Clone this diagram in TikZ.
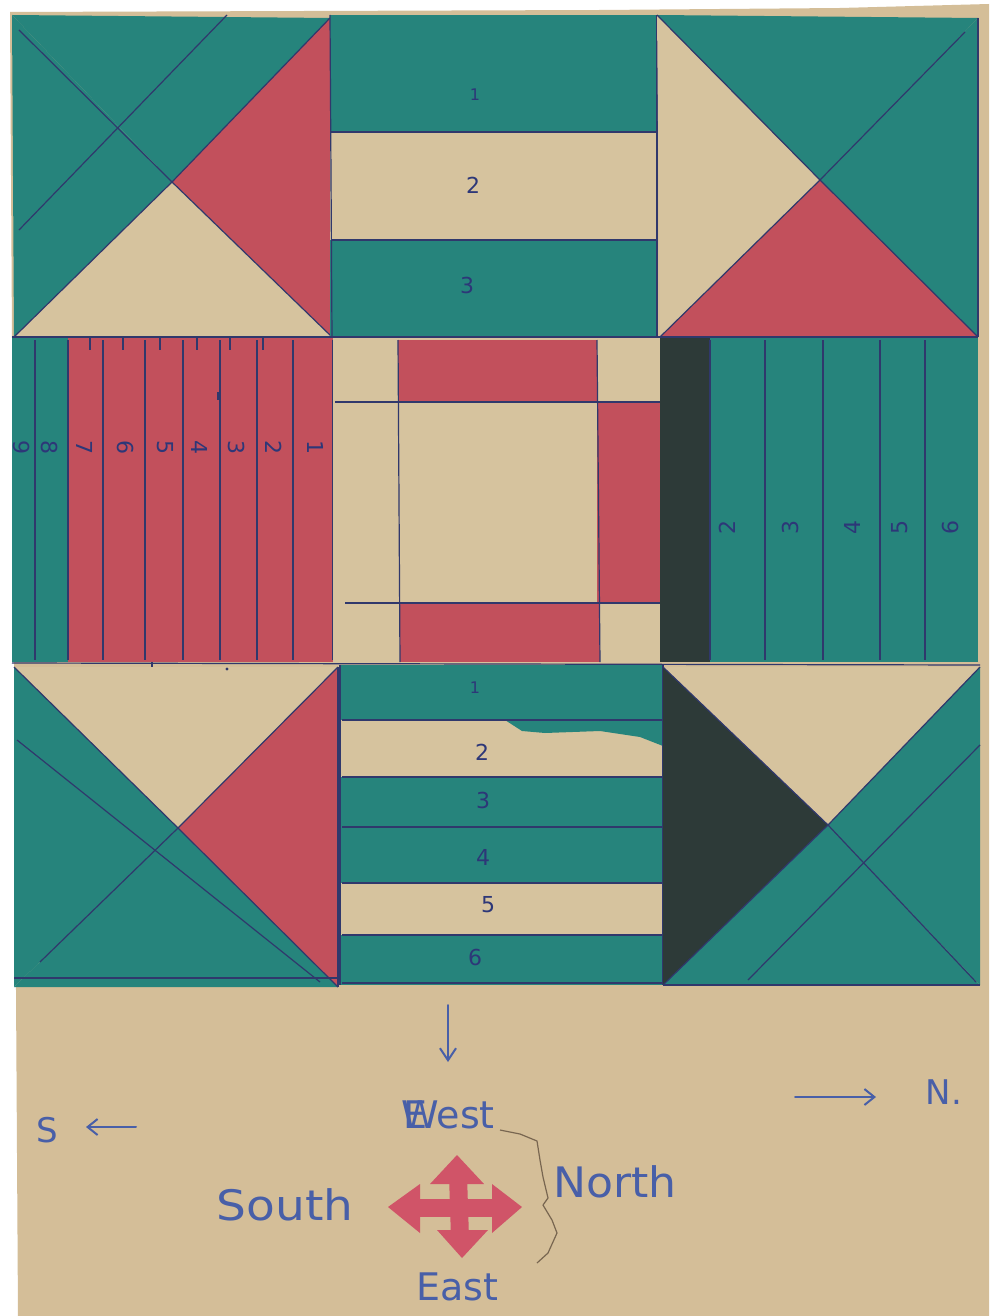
\documentclass[tikz,border=0pt]{standalone}
\usepackage{fontspec}
\usepackage{graphicx}
\newfontfamily\hand{DejaVu Sans}
\usetikzlibrary{arrows.meta}
\definecolor{qteal}{RGB}{38,132,124}
\definecolor{qred}{RGB}{194,80,92}
\definecolor{qtan}{RGB}{214,195,158}
\definecolor{paper}{RGB}{212,190,152}
\definecolor{qdark}{RGB}{45,58,56}
\definecolor{inkc}{RGB}{48,56,108}
\definecolor{numc}{RGB}{45,55,120}
\definecolor{pen}{RGB}{72,95,168}
\definecolor{arrowred}{RGB}{208,84,104}
\definecolor{tearc}{RGB}{120,102,80}
\begin{document}
\begin{tikzpicture}[x=1pt,y=-1pt,
  ink/.style={draw=inkc,line width=1.2pt,line join=round},
  num/.style={font=\hand\fontsize{22}{22}\selectfont,text=numc,inner sep=0pt},
  handtext/.style={font=\hand\fontsize{42}{42}\selectfont,text=pen,inner sep=0pt},
  penline/.style={draw=pen,line width=2pt,line cap=round,line join=round}]
\useasboundingbox (0,0) rectangle (989,1316);
\fill[white] (0,0) rectangle (989,1316);
\fill[paper] (10,12) -- (600,10) -- (840,8) -- (989,4) -- (989,1316) -- (18,1316) -- cycle;

% ---------- top-left block ----------
\coordinate (tlC) at (172,182);
\fill[qteal] (12,15) -- (330,18) -- (tlC) -- cycle;
\fill[qteal] (12,15) -- (tlC) -- (14,337) -- cycle;
\fill[qred] (330,18) -- (332,337) -- (tlC) -- cycle;
\fill[qtan] (14,337) -- (332,337) -- (tlC) -- cycle;
\draw[ink] (330,18) -- (tlC) -- (332,337);
\draw[ink] (14,337) -- (tlC);
\draw[ink] (19,30) -- (tlC);
\draw[ink] (227,15) -- (19,230);

% ---------- top-middle block ----------
\fill[qteal] (330,15) rectangle (657,132);
\fill[qtan] (330,132) rectangle (657,240);
\fill[qteal] (330,240) rectangle (657,337);
\draw[ink] (330,15) -- (332,337);
\draw[ink] (657,15) -- (657,337);
\draw[ink] (330,132) -- (657,132);
\draw[ink] (332,240) -- (657,240);
\node[num,font=\hand\fontsize{16}{16}\selectfont] (tm1) at (475,95) {1};
\node[num] (tm2) at (473,185) {2};
\node[num] (tm3) at (467,285) {3};

% ---------- top-right block ----------
\coordinate (trC) at (820,180);
\fill[qtan] (657,15) -- (trC) -- (660,337) -- cycle;
\fill[qteal] (657,15) -- (978,18) -- (trC) -- cycle;
\fill[qteal] (978,18) -- (978,337) -- (trC) -- cycle;
\fill[qred] (660,337) -- (978,337) -- (trC) -- cycle;
\draw[ink] (657,15) -- (trC) -- (660,337);
\draw[ink] (trC) -- (978,337);
\draw[ink] (965,32) -- (trC);
\draw[ink] (978,18) -- (978,337);

% ---------- middle-left block ----------
\fill[qteal] (12,338) rectangle (68,662);
\fill[qred] (68,338) rectangle (333,662);
\foreach \x in {35,68,103,145,183,220,257,293,333}
  \draw[ink] (\x,340) -- (\x,660);
\foreach \x in {90,123,160,197,230,263}
  \draw[ink] (\x,338) -- (\x,350);
\draw[ink] (218,392) -- (218,400);
\draw[ink] (152,662) -- (152,685);
\foreach \d/\x in {1/316,2/274,3/237,4/200,5/165,6/126,7/85,8/50,9/22}
  \node[num,rotate=-90] (ml\d) at (\x,447) {\d};

% ---------- centre block ----------
\fill[qtan] (333,338) rectangle (660,663);
\fill[qred] (398,340) rectangle (597,402);
\fill[qred] (597,402) rectangle (660,603);
\fill[qred] (400,603) rectangle (600,662);
\draw[ink] (335,402) -- (660,402);
\draw[ink] (345,603) -- (660,603);
\draw[ink] (398,340) -- (400,662);
\draw[ink] (597,340) -- (600,662);

% ---------- middle-right block ----------
\fill[qdark] (660,338) rectangle (710,662);
\fill[qteal] (710,338) rectangle (978,662);
\foreach \x in {710,765,823,880,925}
  \draw[ink] (\x,340) -- (\x,660);
\foreach \d/\x in {2/727,3/790,4/852,5/900,6/950}
  \node[num,rotate=90] (mr\d) at (\x,527) {\d};

% row lines
\draw[ink] (12,337) -- (978,337);
\draw[ink] (12,663) -- (980,665);

% ---------- bottom-left block ----------
\coordinate (blC) at (178,828);
\fill[qtan] (14,667) -- (338,667) -- (blC) -- cycle;
\fill[qred] (338,667) -- (338,987) -- (blC) -- cycle;
\fill[qteal] (14,667) -- (blC) -- (14,987) -- cycle;
\fill[qteal] (14,987) -- (338,987) -- (blC) -- cycle;
\draw[ink] (14,667) -- (blC) -- (338,667);
\draw[ink] (blC) -- (338,987);
\draw[ink] (blC) -- (40,962);
\draw[ink] (17,740) -- (320,982);
\draw[ink] (14,978) -- (338,978);
\draw[ink] (338,667) -- (338,987);
\fill[inkc] (227,669) circle (1.6);

% ---------- bottom-middle block ----------
\fill[qteal] (340,665) rectangle (663,720);
\fill[qtan] (340,720) rectangle (663,777);
\fill[qteal] (505,720) -- (522,731) -- (545,733) -- (600,731) -- (640,737) -- (663,746) -- (663,720) -- cycle;
\fill[qteal] (340,777) rectangle (663,883);
\fill[qtan] (340,883) rectangle (663,935);
\fill[qteal] (340,935) rectangle (663,985);
\foreach \y in {720,777,827,883,935,983}
  \draw[ink] (342,\y) -- (663,\y);
\draw[ink] (340,665) -- (340,985);
\draw[ink] (663,665) -- (663,985);
\node[num,font=\hand\fontsize{16}{16}\selectfont] (bm1) at (475,688) {1};
\node[num] (bm2) at (482,752) {2};
\node[num] (bm3) at (483,800) {3};
\node[num] (bm4) at (483,857) {4};
\node[num] (bm5) at (488,905) {5};
\node[num] (bm6) at (475,957) {6};

% ---------- bottom-right block ----------
\coordinate (brC) at (828,825);
\fill[qtan] (663,667) -- (980,667) -- (brC) -- cycle;
\fill[qdark] (663,667) -- (brC) -- (663,985) -- cycle;
\fill[qteal] (980,667) -- (980,985) -- (brC) -- cycle;
\fill[qteal] (663,985) -- (980,985) -- (brC) -- cycle;
\draw[ink] (663,667) -- (brC) -- (980,667);
\draw[ink] (663,985) -- (brC) -- (976,982);
\draw[ink] (980,745) -- (748,980);
\draw[ink] (663,985) -- (980,985);

% ---------- compass area ----------
\draw[tearc,line width=1.2pt,line join=round]
  (500,1130) -- (520,1134) -- (537,1141) -- (540,1160) -- (543,1177)
  -- (548,1198) -- (543,1205) -- (552,1220) -- (557,1233) -- (548,1253) -- (537,1263);

\coordinate (dTop) at (448,1005);
\coordinate (dBot) at (448,1062);
\draw[penline,-{Straight Barb[length=12pt,width=16pt]}] (dTop) -- (dBot);

\node[handtext,font=\hand\fontsize{34}{34}\selectfont] (sLab) at (47,1130) {S};
\coordinate (sA) at (136,1127);
\coordinate (sB) at (86,1127);
\draw[penline,-{Straight Barb[length=10pt,width=16pt]}] (sA) -- (sB);

\coordinate (nA) at (795,1097);
\coordinate (nB) at (876,1097);
\draw[penline,-{Straight Barb[length=10pt,width=16pt]}] (nA) -- (nB);
\node[handtext,font=\hand\fontsize{34}{34}\selectfont] (nLab) at (944,1092) {N.};

\node[handtext,font=\hand\fontsize{38}{38}\selectfont] (west) at (448,1115) {\rlap{\kern2pt E}West};
\node[handtext] (south) at (285,1205) {\scalebox{1.12}[1]{South}};
\node[handtext] (north) at (615,1182) {\scalebox{1.05}[1]{North}};
\node[handtext,font=\hand\fontsize{38}{38}\selectfont] (east) at (457,1287) {East};

% red four-way arrow
\coordinate (ac) at (458,1208);
\draw[arrowred,line width=18pt] (410,1208) -- (500,1208);
\draw[arrowred,line width=18pt] (458,1175) -- (460,1238);
\fill[arrowred] (388,1207) -- (420,1184) -- (420,1233) -- cycle;
\fill[arrowred] (522,1207) -- (492,1184) -- (492,1233) -- cycle;
\fill[arrowred] (457,1155) -- (430,1184) -- (484,1184) -- cycle;
\fill[arrowred] (462,1258) -- (437,1230) -- (488,1230) -- cycle;
\end{tikzpicture}
\end{document}
